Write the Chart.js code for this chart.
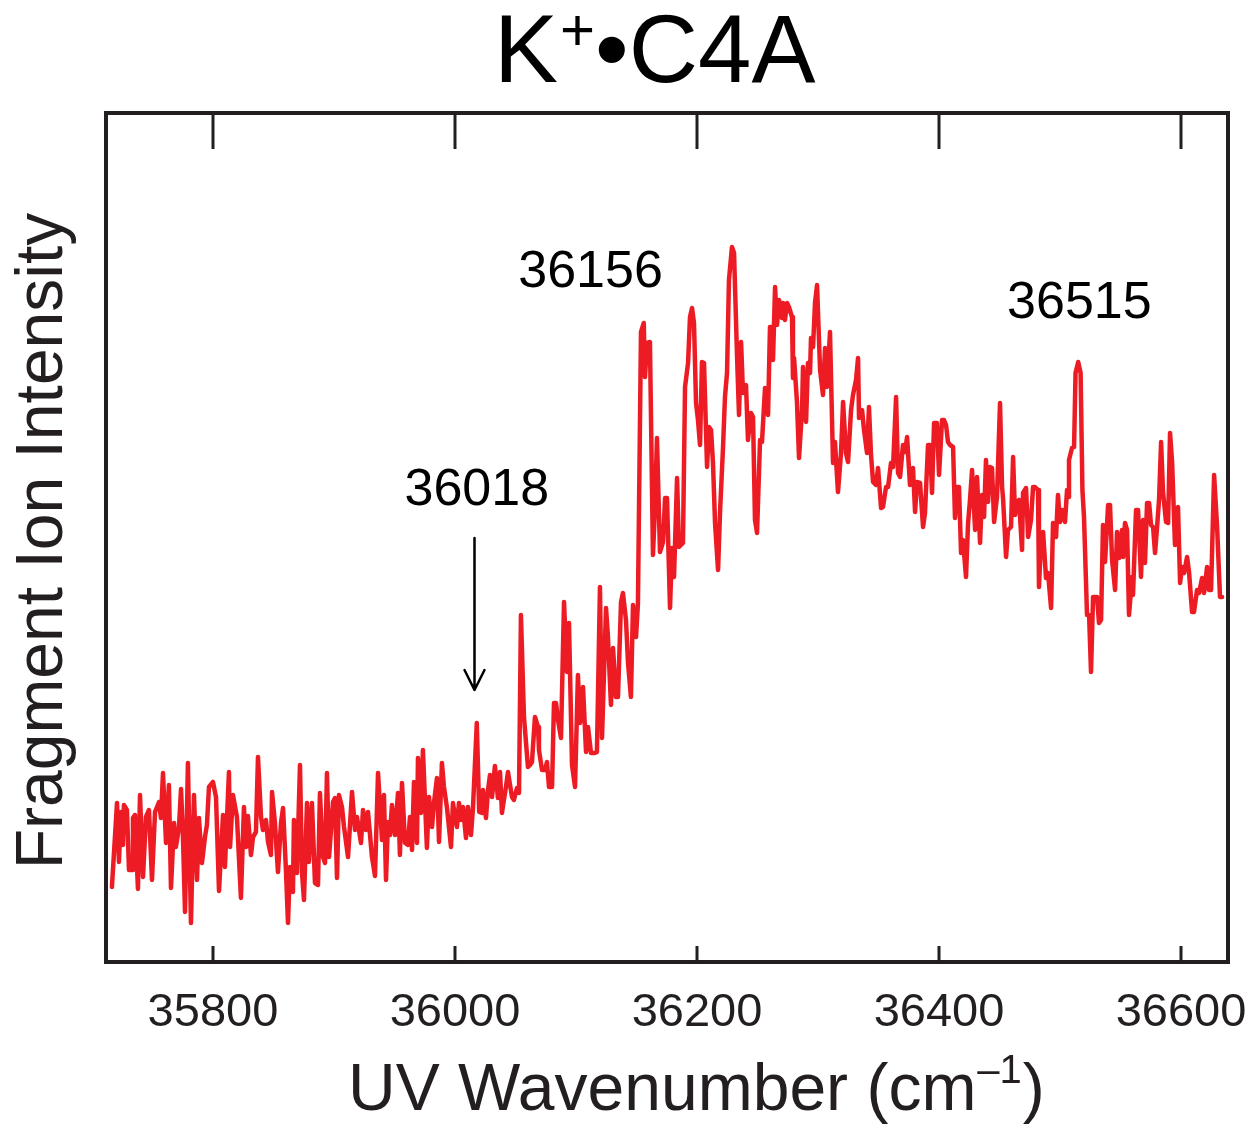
<!DOCTYPE html>
<html>
<head>
<meta charset="utf-8">
<title>K+•C4A</title>
<script src="https://cdn.jsdelivr.net/npm/chart.js@4.4.1/dist/chart.umd.min.js"></script>
<style>
  html, body { margin: 0; padding: 0; background: #fff; }
  canvas { display: block; }
</style>
</head>
<body>
<canvas id="espectro" width="1250" height="1125"></canvas>
<script>
// Espectro UV (número de onda en cm-1, intensidad en unidades arbitrarias)
const wavenumber = [
  35716.5, 35720.7, 35722.3, 35724.0, 35725.6, 35726.4, 35728.9, 35730.6, 35733.1, 35733.9,
  35735.5, 35738.0, 35739.7, 35742.2, 35744.6, 35747.1, 35749.6, 35752.1, 35755.4, 35757.0,
  35758.7, 35761.2, 35763.6, 35765.3, 35767.8, 35769.4, 35771.9, 35773.6, 35775.2, 35776.9,
  35779.3, 35781.8, 35784.3, 35786.8, 35788.4, 35790.9, 35793.4, 35795.0, 35796.7, 35800.0,
  35802.5, 35805.0, 35808.3, 35809.9, 35813.2, 35814.1, 35816.5, 35819.8, 35823.1, 35825.6,
  35827.3, 35828.9, 35831.4, 35833.1, 35835.5, 35837.2, 35839.7, 35841.3, 35843.8, 35845.5,
  35847.9, 35848.8, 35851.2, 35853.7, 35856.2, 35857.9, 35860.3, 35862.0, 35863.6, 35866.1,
  35866.9, 35869.4, 35871.9, 35873.6, 35875.2, 35877.7, 35879.3, 35881.8, 35884.3, 35886.8,
  35888.4, 35890.9, 35892.6, 35894.2, 35895.9, 35899.2, 35900.8, 35902.5, 35904.1, 35906.6,
  35908.3, 35911.6, 35914.9, 35917.4, 35919.0, 35922.3, 35924.0, 35926.4, 35928.1, 35931.4,
  35933.9, 35936.4, 35939.7, 35941.3, 35943.0, 35944.6, 35946.3, 35947.9, 35950.4, 35952.9,
  35954.5, 35956.2, 35958.7, 35961.1, 35962.8, 35964.5, 35966.1, 35968.6, 35969.4, 35971.9,
  35973.5, 35976.8, 35978.5, 35981.0, 35982.6, 35985.1, 35986.8, 35989.2, 35990.9, 35993.4,
  35996.7, 35998.3, 36001.6, 36003.3, 36004.9, 36006.6, 36009.1, 36010.7, 36013.2, 36014.9,
  36018.0, 36020.0, 36022.3, 36023.1, 36025.6, 36027.3, 36028.9, 36030.6, 36033.0, 36035.5,
  36037.2, 36038.8, 36042.1, 36043.8, 36047.1, 36048.7, 36051.2, 36052.9, 36054.5, 36057.0,
  36060.3, 36062.0, 36063.6, 36066.1, 36068.6, 36069.4, 36071.9, 36074.4, 36076.0, 36077.7,
  36080.2, 36081.8, 36083.5, 36085.1, 36087.6, 36090.1, 36092.5, 36094.2, 36096.7, 36099.2,
  36101.6, 36103.3, 36105.8, 36108.3, 36109.9, 36112.4, 36114.9, 36117.3, 36119.8, 36121.5,
  36124.8, 36126.4, 36128.9, 36130.6, 36133.0, 36134.7, 36137.2, 36138.8, 36141.3, 36143.0,
  36145.4, 36147.1, 36149.6, 36151.2, 36153.7, 36156.0, 36157.0, 36158.7, 36161.1, 36163.6,
  36165.3, 36166.9, 36169.4, 36171.9, 36173.6, 36175.2, 36177.7, 36179.3, 36181.0, 36183.5,
  36185.1, 36188.4, 36190.1, 36192.6, 36194.2, 36195.9, 36197.5, 36199.2, 36200.8, 36202.5,
  36204.1, 36205.8, 36208.3, 36209.9, 36211.6, 36213.2, 36214.9, 36217.4, 36219.0, 36221.5,
  36223.1, 36224.8, 36226.4, 36228.9, 36230.6, 36233.1, 36234.7, 36236.4, 36238.0, 36240.5,
  36242.1, 36244.6, 36246.3, 36247.9, 36249.6, 36252.1, 36253.7, 36256.2, 36258.7, 36260.3,
  36262.0, 36262.8, 36264.5, 36266.1, 36267.8, 36270.2, 36271.1, 36272.7, 36274.4, 36276.0,
  36278.5, 36279.3, 36280.2, 36282.6, 36284.3, 36286.8, 36287.6, 36290.1, 36291.7, 36293.4,
  36294.2, 36295.9, 36297.5, 36299.2, 36301.7, 36304.1, 36305.8, 36307.4, 36309.9, 36312.4,
  36314.0, 36316.5, 36319.0, 36320.7, 36323.1, 36324.8, 36327.3, 36328.9, 36331.4, 36333.1,
  36333.9, 36336.4, 36338.0, 36340.5, 36342.1, 36343.8, 36345.5, 36347.9, 36349.6, 36352.1,
  36353.7, 36356.2, 36357.9, 36360.3, 36362.0, 36364.5, 36366.1, 36367.8, 36370.2, 36371.9,
  36373.6, 36376.0, 36378.5, 36380.2, 36381.8, 36384.3, 36386.8, 36388.4, 36390.9, 36392.6,
  36394.2, 36395.9, 36398.3, 36400.0, 36402.5, 36404.1, 36405.8, 36407.4, 36409.1, 36411.6,
  36413.2, 36414.9, 36416.5, 36418.2, 36419.8, 36422.3, 36424.0, 36425.6, 36427.3, 36429.8,
  36431.4, 36433.9, 36435.5, 36437.2, 36438.8, 36440.5, 36442.1, 36443.8, 36445.5, 36447.9,
  36450.4, 36452.1, 36452.9, 36455.4, 36457.0, 36459.5, 36461.2, 36462.8, 36464.5, 36466.1,
  36468.6, 36469.4, 36471.9, 36473.6, 36476.0, 36477.7, 36479.3, 36481.8, 36482.6, 36484.3,
  36486.0, 36488.4, 36490.1, 36492.6, 36494.2, 36496.7, 36498.3, 36500.0, 36501.7, 36504.1,
  36505.8, 36506.6, 36507.4, 36509.9, 36511.6, 36512.8, 36515.0, 36517.0, 36518.5, 36519.8,
  36522.3, 36524.0, 36525.6, 36527.3, 36530.6, 36532.2, 36533.9, 36535.5, 36537.2, 36539.7,
  36541.3, 36543.0, 36545.5, 36547.1, 36548.8, 36551.2, 36552.1, 36553.7, 36555.4, 36557.0,
  36559.5, 36560.3, 36562.8, 36564.5, 36566.9, 36568.6, 36570.2, 36571.9, 36573.6, 36575.2,
  36576.9, 36578.5, 36580.2, 36581.8, 36583.5, 36585.1, 36587.6, 36589.3, 36590.9, 36592.6,
  36595.0, 36597.5, 36599.2, 36600.8, 36602.5, 36605.0, 36606.6, 36609.1, 36610.7, 36613.2,
  36614.9, 36617.4, 36619.0, 36621.5, 36623.1, 36624.8, 36627.3, 36629.8, 36632.2, 36633.9
];

const intensity = [
  75, 159, 100, 150, 117, 157, 152, 92, 92, 144,
  147, 73, 167, 85, 145, 152, 82, 150, 160, 144,
  189, 119, 177, 74, 139, 115, 135, 173, 125, 50,
  199, 39, 167, 82, 144, 99, 125, 137, 175, 180,
  165, 71, 147, 95, 190, 115, 167, 145, 64, 155,
  115, 146, 107, 125, 130, 205, 145, 132, 142, 120,
  107, 170, 139, 90, 139, 154, 92, 39, 95, 70,
  142, 89, 197, 89, 62, 159, 100, 159, 79, 77,
  169, 105, 99, 189, 105, 160, 164, 84, 167, 155,
  135, 105, 170, 132, 145, 119, 152, 132, 150, 105,
  86, 189, 122, 167, 82, 140, 127, 157, 127, 169,
  107, 179, 119, 117, 145, 112, 180, 119, 204, 149,
  212, 114, 165, 135, 159, 184, 120, 199, 175, 154,
  115, 159, 135, 159, 142, 155, 124, 155, 127, 155,
  239, 150, 149, 172, 144, 172, 187, 165, 196, 164,
  190, 149, 175, 190, 165, 162, 174, 169, 347, 245,
  195, 197, 200, 245, 235, 212, 192, 192, 200, 175,
  175, 259, 259, 242, 224, 360, 290, 339, 197, 175,
  287, 239, 275, 210, 235, 209, 209, 210, 375, 224,
  354, 325, 257, 314, 265, 265, 360, 369, 342, 299,
  265, 357, 325, 359, 630, 639, 585, 619, 620, 407,
  455, 524, 410, 420, 464, 464, 354, 414, 385, 484,
  415, 419, 575, 599, 645, 654, 639, 559, 542, 517,
  600, 599, 495, 535, 532, 499, 439, 392, 449, 515,
  565, 589, 682, 715, 709, 605, 547, 620, 569, 577,
  522, 549, 545, 442, 429, 522, 520, 574, 547, 635,
  635, 602, 675, 637, 662, 644, 659, 642, 659, 655,
  645, 584, 604, 560, 504, 552, 595, 540, 599, 589,
  624, 615, 659, 677, 592, 567, 614, 575, 630, 499,
  520, 470, 509, 560, 509, 500, 552, 567, 582, 604,
  544, 552, 532, 509, 555, 507, 480, 477, 494, 454,
  455, 475, 475, 499, 495, 565, 489, 485, 517, 510,
  525, 477, 494, 450, 480, 479, 435, 449, 517, 517,
  469, 539, 539, 487, 542, 542, 537, 520, 517, 515,
  444, 475, 475, 409, 422, 385, 439, 462, 492, 432,
  485, 419, 467, 445, 502, 460, 495, 494, 440, 465,
  559, 475, 464, 405, 432, 435, 505, 447, 460, 462,
  412, 469, 474, 425, 442, 475, 475, 472, 375, 422,
  430, 384, 389, 354, 439, 425, 467, 440, 452, 440,
  472, 465, 502, 514, 515, 589, 600, 589, 472, 445,
  347, 347, 290, 365, 365, 339, 342, 437, 400, 457,
  457, 402, 372, 430, 404, 432, 405, 439, 432, 347,
  385, 367, 452, 452, 385, 442, 399, 459, 459, 437,
  435, 409, 435, 462, 520, 470, 440, 439, 529, 500,
  417, 455, 379, 395, 389, 405, 390, 350, 350, 372,
  369, 384, 369, 395, 372, 372, 487, 435, 365, 365
];

const xTicks = [35800, 36000, 36200, 36400, 36600];
const peakLabels = ["36018", "36156", "36515"];

const tinta = "#231f20";
const fuente = "'Liberation Sans', Arial, Helvetica, sans-serif";

// Etiquetas de los picos, en coordenadas de datos
const etiquetas = [
  { texto: peakLabels[0], x: 36018, y: 457 },
  { texto: peakLabels[1], x: 36112, y: 675 },
  { texto: peakLabels[2], x: 36516, y: 644 }
];

// Marco, marcas del eje, títulos y anotaciones
const marco = {
  id: "marco",
  beforeDraw(chart) {
    const ctx = chart.ctx;
    ctx.save();
    ctx.fillStyle = "#fff";
    ctx.fillRect(0, 0, chart.width, chart.height);
    ctx.restore();
  },
  afterDraw(chart) {
    const { ctx, chartArea: a } = chart;
    const x = chart.scales.x;
    const y = chart.scales.y;
    ctx.save();

    ctx.strokeStyle = tinta;
    ctx.lineWidth = 4;
    ctx.strokeRect(a.left, a.top, a.right - a.left, a.bottom - a.top);

    ctx.lineWidth = 3;
    ctx.beginPath();
    xTicks.forEach(v => {
      const px = Math.round(x.getPixelForValue(v));
      ctx.moveTo(px, a.bottom);
      ctx.lineTo(px, a.bottom - 16);
      ctx.moveTo(px, a.top);
      ctx.lineTo(px, a.top + 36);
    });
    ctx.stroke();

    // Título con superíndice
    ctx.fillStyle = "#000";
    ctx.textAlign = "left";
    ctx.textBaseline = "alphabetic";
    let cx = 494;
    ctx.font = "96px " + fuente;
    ctx.fillText("K", cx, 82);
    cx += ctx.measureText("K").width;
    ctx.font = "60px " + fuente;
    ctx.fillText("+", cx + 2, 50);
    cx += ctx.measureText("+").width + 2;
    ctx.font = "96px " + fuente;
    ctx.fillText("\u2022C4A", cx, 82);

    // Título del eje x
    ctx.fillStyle = tinta;
    cx = 348;
    ctx.font = "66px " + fuente;
    ctx.fillText("UV Wavenumber (cm", cx, 1110);
    cx += ctx.measureText("UV Wavenumber (cm").width;
    ctx.font = "40px " + fuente;
    ctx.fillText("\u20131", cx + 1, 1083);
    cx += ctx.measureText("\u20131").width + 2;
    ctx.font = "66px " + fuente;
    ctx.fillText(")", cx, 1110);

    // Título del eje y
    ctx.save();
    ctx.translate(62, 541);
    ctx.rotate(-Math.PI / 2);
    ctx.textAlign = "center";
    ctx.fillText("Fragment Ion Intensity", 0, 0);
    ctx.restore();

    // Etiquetas de picos
    ctx.fillStyle = "#000";
    ctx.textAlign = "center";
    ctx.font = "52px " + fuente;
    etiquetas.forEach(e => {
      ctx.fillText(e.texto, x.getPixelForValue(e.x), y.getPixelForValue(e.y));
    });

    // Flecha hacia 36018
    const ax = Math.round(x.getPixelForValue(36016)) + 0.5;
    const y0 = y.getPixelForValue(424);
    const y1 = y.getPixelForValue(272);
    ctx.strokeStyle = "#000";
    ctx.lineWidth = 2.5;
    ctx.lineCap = "round";
    ctx.lineJoin = "round";
    ctx.beginPath();
    ctx.moveTo(ax, y0);
    ctx.lineTo(ax, y1);
    ctx.moveTo(ax - 10, y1 - 20);
    ctx.lineTo(ax, y1);
    ctx.lineTo(ax + 10, y1 - 20);
    ctx.stroke();

    ctx.restore();
  }
};

new Chart(document.getElementById("espectro"), {
  type: "line",
  data: {
    datasets: [{
      data: wavenumber.map((w, i) => ({ x: w, y: intensity[i] })),
      borderColor: "#ed1c24",
      borderWidth: 4.5,
      borderJoinStyle: "round",
      borderCapStyle: "round",
      pointRadius: 0,
      tension: 0,
      fill: false
    }]
  },
  options: {
    responsive: false,
    animation: false,
    devicePixelRatio: 1,
    layout: { padding: { left: 106, top: 113, right: 22, bottom: 0 } },
    plugins: {
      legend: { display: false },
      tooltip: { enabled: false },
      title: { display: false }
    },
    scales: {
      x: {
        type: "linear",
        min: 35711.6,
        max: 36638.8,
        grid: { display: false, drawTicks: false },
        border: { display: false },
        afterBuildTicks: s => { s.ticks = xTicks.map(v => ({ value: v })); },
        afterFit: s => {
          s.height = 163;
          // sin relleno extra por las etiquetas de los extremos
          s.paddingLeft = 0;
          s.paddingRight = 0;
        },
        ticks: {
          padding: 23,
          autoSkip: false,
          maxRotation: 0,
          color: tinta,
          font: { family: fuente, size: 47 },
          callback: v => String(v)
        }
      },
      y: { display: false, min: 0, max: 849 }
    }
  },
  plugins: [marco]
});
</script>
</body>
</html>
